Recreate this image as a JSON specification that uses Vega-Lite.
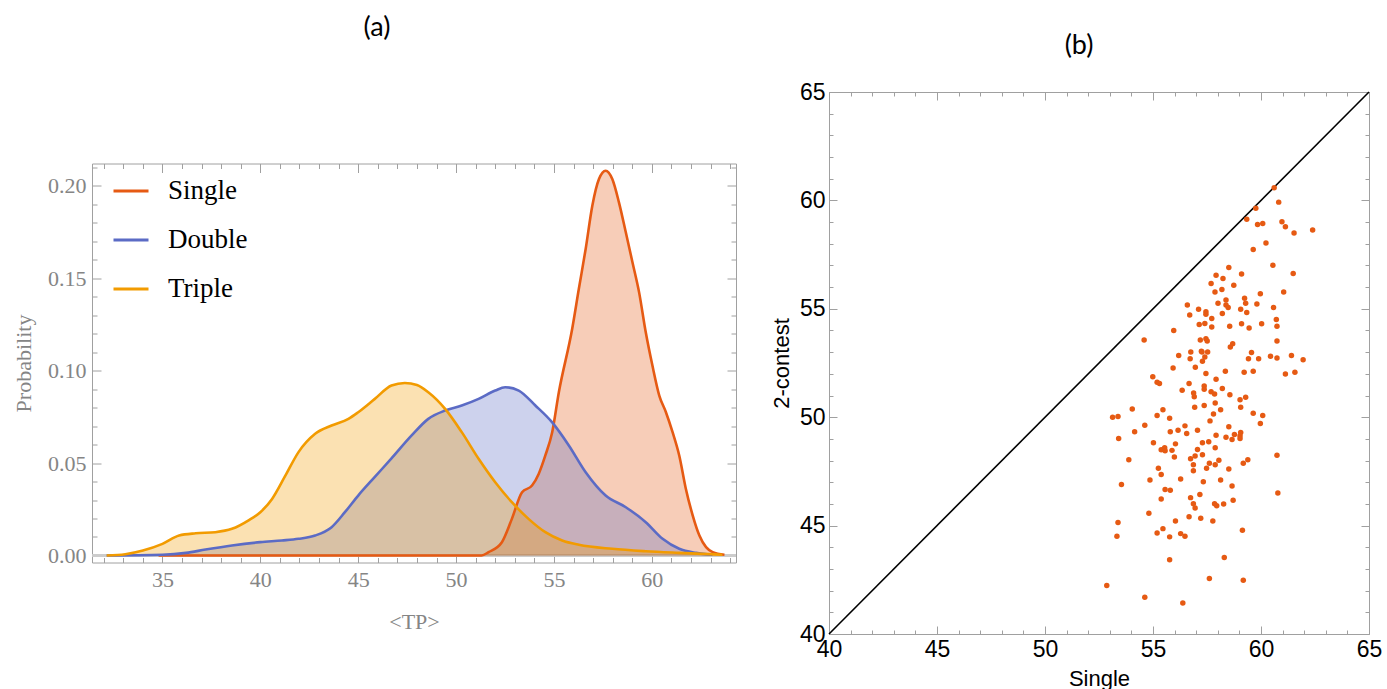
{
  "$schema": "https://vega.github.io/schema/vega-lite/v6.json",
  "padding": {"top": 14, "left": 12, "right": 0, "bottom": 0},
  "config": {"view": {"stroke": null}},
  "bounds": "flush",
  "center": true,
  "spacing": 93,
  "hconcat": [
    {
      "width": 644,
      "height": 399,
      "title": {"text": "(a)", "font": "Lato", "fontSize": 27, "fontWeight": "normal", "color": "#000000", "anchor": "middle", "dx": -37, "baseline": "alphabetic", "offset": 93},
      "data": {"values": [
        {"series": "Single", "x": 34.8, "p": 0},
        {"series": "Single", "x": 51.3, "p": 0},
        {"series": "Single", "x": 51.66, "p": 0.0018},
        {"series": "Single", "x": 52.34, "p": 0.0072},
        {"series": "Single", "x": 52.85, "p": 0.0198},
        {"series": "Single", "x": 53.37, "p": 0.0342},
        {"series": "Single", "x": 53.88, "p": 0.0378},
        {"series": "Single", "x": 54.22, "p": 0.0441},
        {"series": "Single", "x": 54.56, "p": 0.0541},
        {"series": "Single", "x": 54.91, "p": 0.0667},
        {"series": "Single", "x": 55.25, "p": 0.0883},
        {"series": "Single", "x": 55.93, "p": 0.1225},
        {"series": "Single", "x": 56.27, "p": 0.1441},
        {"series": "Single", "x": 56.62, "p": 0.1658},
        {"series": "Single", "x": 56.96, "p": 0.1892},
        {"series": "Single", "x": 57.3, "p": 0.2036},
        {"series": "Single", "x": 57.64, "p": 0.2081},
        {"series": "Single", "x": 57.98, "p": 0.2036},
        {"series": "Single", "x": 58.32, "p": 0.191},
        {"series": "Single", "x": 58.67, "p": 0.1748},
        {"series": "Single", "x": 59.01, "p": 0.1586},
        {"series": "Single", "x": 59.35, "p": 0.1423},
        {"series": "Single", "x": 59.69, "p": 0.1207},
        {"series": "Single", "x": 60.03, "p": 0.1027},
        {"series": "Single", "x": 60.38, "p": 0.0865},
        {"series": "Single", "x": 60.72, "p": 0.0775},
        {"series": "Single", "x": 61.06, "p": 0.0667},
        {"series": "Single", "x": 61.4, "p": 0.0541},
        {"series": "Single", "x": 61.74, "p": 0.036},
        {"series": "Single", "x": 62.09, "p": 0.0216},
        {"series": "Single", "x": 62.43, "p": 0.0108},
        {"series": "Single", "x": 62.77, "p": 0.0045},
        {"series": "Single", "x": 63.11, "p": 0.0018},
        {"series": "Single", "x": 63.71, "p": 0.0004},
        {"series": "Double", "x": 32.15, "p": 0},
        {"series": "Double", "x": 35.0, "p": 0.0004},
        {"series": "Double", "x": 36.2, "p": 0.0014},
        {"series": "Double", "x": 37.2, "p": 0.0032},
        {"series": "Double", "x": 38.55, "p": 0.0054},
        {"series": "Double", "x": 40.0, "p": 0.0072},
        {"series": "Double", "x": 41.1, "p": 0.0081},
        {"series": "Double", "x": 41.95, "p": 0.009},
        {"series": "Double", "x": 42.8, "p": 0.0108},
        {"series": "Double", "x": 43.64, "p": 0.0153},
        {"series": "Double", "x": 44.32, "p": 0.0234},
        {"series": "Double", "x": 45.0, "p": 0.0324},
        {"series": "Double", "x": 45.85, "p": 0.0425},
        {"series": "Double", "x": 46.7, "p": 0.0525},
        {"series": "Double", "x": 47.73, "p": 0.0649},
        {"series": "Double", "x": 48.58, "p": 0.0739},
        {"series": "Double", "x": 49.44, "p": 0.0784},
        {"series": "Double", "x": 50.29, "p": 0.0811},
        {"series": "Double", "x": 51.15, "p": 0.0847},
        {"series": "Double", "x": 52.0, "p": 0.0892},
        {"series": "Double", "x": 52.51, "p": 0.091},
        {"series": "Double", "x": 53.2, "p": 0.0892},
        {"series": "Double", "x": 54.05, "p": 0.0811},
        {"series": "Double", "x": 54.9, "p": 0.0721},
        {"series": "Double", "x": 55.76, "p": 0.0595},
        {"series": "Double", "x": 56.62, "p": 0.045},
        {"series": "Double", "x": 57.64, "p": 0.0324},
        {"series": "Double", "x": 58.67, "p": 0.0261},
        {"series": "Double", "x": 59.69, "p": 0.018},
        {"series": "Double", "x": 60.55, "p": 0.009},
        {"series": "Double", "x": 61.4, "p": 0.0036},
        {"series": "Double", "x": 62.26, "p": 0.0014},
        {"series": "Double", "x": 63.1, "p": 0.0004},
        {"series": "Triple", "x": 32.15, "p": 0},
        {"series": "Triple", "x": 33.1, "p": 0.0007},
        {"series": "Triple", "x": 34.0, "p": 0.0027},
        {"series": "Triple", "x": 35.0, "p": 0.0063},
        {"series": "Triple", "x": 35.85, "p": 0.0108},
        {"series": "Triple", "x": 36.7, "p": 0.012},
        {"series": "Triple", "x": 37.7, "p": 0.0126},
        {"series": "Triple", "x": 38.55, "p": 0.0144},
        {"series": "Triple", "x": 39.4, "p": 0.019},
        {"series": "Triple", "x": 40.0, "p": 0.0234},
        {"series": "Triple", "x": 40.6, "p": 0.0306},
        {"series": "Triple", "x": 41.27, "p": 0.043},
        {"series": "Triple", "x": 41.95, "p": 0.0559},
        {"series": "Triple", "x": 42.8, "p": 0.0658},
        {"series": "Triple", "x": 43.64, "p": 0.0703},
        {"series": "Triple", "x": 44.5, "p": 0.0739},
        {"series": "Triple", "x": 45.0, "p": 0.0775},
        {"series": "Triple", "x": 45.85, "p": 0.0847},
        {"series": "Triple", "x": 46.7, "p": 0.0919},
        {"series": "Triple", "x": 47.38, "p": 0.0933},
        {"series": "Triple", "x": 48.0, "p": 0.0922},
        {"series": "Triple", "x": 48.58, "p": 0.0883},
        {"series": "Triple", "x": 49.44, "p": 0.0793},
        {"series": "Triple", "x": 50.29, "p": 0.0667},
        {"series": "Triple", "x": 51.15, "p": 0.0523},
        {"series": "Triple", "x": 52.0, "p": 0.0396},
        {"series": "Triple", "x": 52.85, "p": 0.0288},
        {"series": "Triple", "x": 53.7, "p": 0.0198},
        {"series": "Triple", "x": 54.56, "p": 0.0126},
        {"series": "Triple", "x": 55.42, "p": 0.0081},
        {"series": "Triple", "x": 56.27, "p": 0.0058},
        {"series": "Triple", "x": 57.98, "p": 0.0036},
        {"series": "Triple", "x": 59.69, "p": 0.0023},
        {"series": "Triple", "x": 61.4, "p": 0.0014},
        {"series": "Triple", "x": 63.6, "p": 0.0004}
      ]},
      "resolve": {"axis": {"x": "independent", "y": "independent"}},
      "layer": [
        {
          "mark": {"type": "rule", "color": "#cccccc", "strokeWidth": 2},
          "encoding": {"y": {"datum": 0, "type": "quantitative", "axis": null}}
        },
        {
          "mark": {"type": "area", "interpolate": "monotone", "fillOpacity": 0.3},
          "encoding": {
            "x": {"field": "x", "type": "quantitative",
              "scale": {"domain": [31.4, 64.3], "nice": false, "zero": false},
              "axis": {"orient": "bottom", "values": [32,33,34,35,36,37,38,39,40,41,42,43,44,45,46,47,48,49,50,51,52,53,54,55,56,57,58,59,60,61,62,63,64],
                "labelExpr": "datum.value % 5 === 0 ? datum.label : ''",
                "tickSize": {"condition": {"test": "datum.value % 5 === 0", "value": -9}, "value": -5},
                "labelPadding": 16, "labelOverlap": false, "labelFlush": false,
                "labelFont": "Liberation Serif", "labelFontSize": 22, "labelColor": "#858585",
                "domainColor": "#a0a0a0", "tickColor": "#a0a0a0", "grid": false,
                "title": "<TP>", "titleFont": "Liberation Serif", "titleFontSize": 22, "titleFontWeight": "normal", "titleColor": "#858585", "titlePadding": 17}},
            "y": {"field": "p", "type": "quantitative", "stack": null,
              "scale": {"domain": [-0.0038, 0.212], "nice": false, "zero": false},
              "axis": {"orient": "left", "values": [0,0.01,0.02,0.03,0.04,0.05,0.06,0.07,0.08,0.09,0.1,0.11,0.12,0.13,0.14,0.15,0.16,0.17,0.18,0.19,0.2,0.21],
                "labelExpr": "round(datum.value*100) % 5 == 0 ? format(datum.value, '.2f') : ''",
                "tickSize": {"condition": {"test": "round(datum.value*100) % 5 == 0", "value": -9}, "value": -5},
                "labelPadding": 15, "labelOverlap": false, "labelFlush": false,
                "labelFont": "Liberation Serif", "labelFontSize": 22, "labelColor": "#858585",
                "domainColor": "#a0a0a0", "tickColor": "#a0a0a0", "grid": false,
                "title": "Probability", "titleFont": "Liberation Serif", "titleFontSize": 22, "titleFontWeight": "normal", "titleColor": "#858585", "titlePadding": 12}},
            "fill": {"field": "series", "type": "nominal",
              "scale": {"domain": ["Single", "Double", "Triple"], "range": ["#E65A13", "#5B6BC5", "#F29B00"]},
              "legend": {"orient": "none", "legendX": 20, "legendY": 80, "title": null, "symbolType": "stroke", "symbolSize": 1225, "symbolStrokeWidth": 3,
                "labelFont": "Liberation Serif", "labelFontSize": 27, "labelColor": "#000000", "labelOffset": 18, "rowPadding": 17}}
          }
        },
        {
          "mark": {"type": "line", "interpolate": "monotone", "strokeWidth": 2.6},
          "encoding": {
            "x": {"field": "x", "type": "quantitative",
              "axis": {"orient": "top", "values": [32,33,34,35,36,37,38,39,40,41,42,43,44,45,46,47,48,49,50,51,52,53,54,55,56,57,58,59,60,61,62,63,64],
                "labels": false, "title": null, "minExtent": 0,
                "tickSize": {"condition": {"test": "datum.value % 5 === 0", "value": -9}, "value": -5},
                "domainColor": "#a0a0a0", "tickColor": "#a0a0a0", "grid": false}},
            "y": {"field": "p", "type": "quantitative",
              "axis": {"orient": "right", "values": [0,0.01,0.02,0.03,0.04,0.05,0.06,0.07,0.08,0.09,0.1,0.11,0.12,0.13,0.14,0.15,0.16,0.17,0.18,0.19,0.2,0.21],
                "labels": false, "title": null, "minExtent": 0,
                "tickSize": {"condition": {"test": "round(datum.value*100) % 5 == 0", "value": -9}, "value": -5},
                "domainColor": "#a0a0a0", "tickColor": "#a0a0a0", "grid": false}},
            "stroke": {"field": "series", "type": "nominal",
              "scale": {"domain": ["Single", "Double", "Triple"], "range": ["#E65A13", "#5B6BC5", "#F29B00"]},
              "legend": {"orient": "none", "legendX": 20, "legendY": 80, "title": null, "symbolType": "stroke", "symbolSize": 1225, "symbolStrokeWidth": 3,
                "labelFont": "Liberation Serif", "labelFontSize": 27, "labelColor": "#000000", "labelOffset": 18, "rowPadding": 17}}
          }
        }
      ]
    },
    {
      "width": 540,
      "height": 542,
      "title": {"text": "(b)", "font": "Lato", "fontSize": 27, "fontWeight": "normal", "color": "#000000", "anchor": "middle", "dx": -20, "baseline": "alphabetic", "offset": 0},
      "resolve": {"axis": {"x": "independent", "y": "independent"}},
      "layer": [
        {
          "data": {"values": [{"s": 40, "c": 40}, {"s": 65, "c": 65}]},
          "mark": {"type": "line", "color": "#000000", "strokeWidth": 1.6},
          "encoding": {
            "x": {"field": "s", "type": "quantitative",
              "scale": {"domain": [40, 65], "nice": false, "zero": false},
              "axis": {"orient": "bottom", "values": [40,41,42,43,44,45,46,47,48,49,50,51,52,53,54,55,56,57,58,59,60,61,62,63,64,65],
                "labelExpr": "datum.value % 5 === 0 ? datum.label : ''",
                "tickSize": {"condition": {"test": "datum.value % 5 === 0", "value": -8}, "value": -4},
                "labelPadding": 12, "labelOverlap": false, "labelFlush": false,
                "labelFont": "Liberation Sans Narrow, Liberation Sans", "labelFontSize": 23, "labelColor": "#000000",
                "domainColor": "#a0a0a0", "tickColor": "#a0a0a0", "grid": false,
                "title": "Single", "titleFont": "Liberation Sans Narrow, Liberation Sans", "titleFontSize": 22, "titleFontWeight": "normal", "titleColor": "#000000", "titlePadding": 3}},
            "y": {"field": "c", "type": "quantitative",
              "scale": {"domain": [40, 65], "nice": false, "zero": false},
              "axis": {"orient": "left", "values": [40,41,42,43,44,45,46,47,48,49,50,51,52,53,54,55,56,57,58,59,60,61,62,63,64,65],
                "labelExpr": "datum.value % 5 === 0 ? datum.label : ''",
                "tickSize": {"condition": {"test": "datum.value % 5 === 0", "value": -8}, "value": -4},
                "labelPadding": 12, "labelOverlap": false, "labelFlush": false,
                "labelFont": "Liberation Sans Narrow, Liberation Sans", "labelFontSize": 23, "labelColor": "#000000",
                "domainColor": "#a0a0a0", "tickColor": "#a0a0a0", "grid": false,
                "title": "2-contest", "titleFont": "Liberation Sans Narrow, Liberation Sans", "titleFontSize": 22, "titleFontWeight": "normal", "titleColor": "#000000", "titlePadding": 6}}
          }
        },
        {
          "data": {"values": [
            {"s":60.61,"c":60.58},{"s":60.82,"c":59.92},{"s":59.76,"c":59.64},{"s":59.34,"c":59.13},{"s":59.84,"c":58.89},{"s":60.08,"c":58.93},{"s":60.97,"c":59.02},{"s":61.13,"c":58.78},{"s":61.53,"c":58.5},{"s":62.39,"c":58.63},
            {"s":60.23,"c":58.04},{"s":59.64,"c":57.73},{"s":60.55,"c":57.01},{"s":58.51,"c":56.9},{"s":57.92,"c":56.55},{"s":58.24,"c":56.4},{"s":59.1,"c":56.6},{"s":61.49,"c":56.63},{"s":57.69,"c":56.17},{"s":58.74,"c":56.09},
            {"s":57.87,"c":55.77},{"s":58.19,"c":55.89},{"s":61.05,"c":55.77},{"s":59.97,"c":55.69},{"s":56.59,"c":55.18},{"s":57.11,"c":54.98},{"s":57.45,"c":54.86},{"s":57.45,"c":54.75},{"s":56.7,"c":54.71},{"s":58.01,"c":55.26},
            {"s":58.38,"c":55.41},{"s":58.38,"c":55.18},{"s":58.48,"c":55.06},{"s":59.24,"c":55.49},{"s":59.29,"c":55.26},{"s":59.81,"c":55.22},{"s":59.06,"c":54.98},{"s":59.34,"c":54.83},{"s":58.21,"c":54.78},{"s":60.58,"c":55.06},
            {"s":57.72,"c":54.55},{"s":60.71,"c":54.51},{"s":57.14,"c":54.28},{"s":57.4,"c":54.32},{"s":57.72,"c":54.16},{"s":58.55,"c":54.2},{"s":59.1,"c":54.31},{"s":59.45,"c":54.11},{"s":60.03,"c":54.31},{"s":60.74,"c":54.2},
            {"s":55.96,"c":54.0},{"s":54.59,"c":53.56},{"s":57.19,"c":53.56},{"s":57.45,"c":53.62},{"s":57.51,"c":53.51},{"s":60.74,"c":53.51},{"s":58.58,"c":53.24},{"s":58.69,"c":53.39},{"s":56.75,"c":53.01},{"s":57.24,"c":53.04},
            {"s":57.27,"c":53.01},{"s":57.53,"c":53.01},{"s":56.19,"c":52.85},{"s":56.72,"c":52.7},{"s":57.4,"c":52.78},{"s":57.29,"c":52.58},{"s":59.42,"c":52.7},{"s":59.56,"c":52.98},{"s":59.89,"c":52.7},{"s":60.44,"c":52.81},
            {"s":60.74,"c":52.73},{"s":61.41,"c":52.85},{"s":61.95,"c":52.65},{"s":55.93,"c":52.27},{"s":56.96,"c":52.3},{"s":58.35,"c":52.12},{"s":57.45,"c":52.02},{"s":59.22,"c":52.07},{"s":59.64,"c":52.12},{"s":61.13,"c":51.99},
            {"s":61.57,"c":52.07},{"s":54.99,"c":51.87},{"s":55.19,"c":51.61},{"s":55.3,"c":51.55},{"s":56.67,"c":51.55},{"s":57.92,"c":51.75},{"s":56.35,"c":51.24},{"s":56.88,"c":51.12},{"s":56.91,"c":50.94},{"s":57.37,"c":51.44},
            {"s":57.37,"c":51.29},{"s":57.69,"c":51.17},{"s":57.85,"c":51.07},{"s":58.21,"c":51.32},{"s":58.56,"c":51.04},{"s":59.03,"c":50.81},{"s":59.29,"c":50.92},{"s":57.88,"c":50.66},{"s":59.06,"c":50.46},{"s":56.93,"c":50.46},
            {"s":57.37,"c":50.54},{"s":54.04,"c":50.38},{"s":53.13,"c":50.0},{"s":53.38,"c":50.03},{"s":55.19,"c":50.08},{"s":55.46,"c":50.34},{"s":55.77,"c":49.95},{"s":58.13,"c":50.34},{"s":57.8,"c":50.15},{"s":57.64,"c":49.83},
            {"s":59.64,"c":50.18},{"s":60.08,"c":50.08},{"s":59.97,"c":49.71},{"s":54.62,"c":49.63},{"s":56.48,"c":49.6},{"s":58.51,"c":49.56},{"s":54.15,"c":49.33},{"s":55.8,"c":49.33},{"s":56.16,"c":49.4},{"s":56.56,"c":49.25},
            {"s":57.06,"c":49.4},{"s":57.92,"c":49.17},{"s":58.38,"c":49.08},{"s":58.77,"c":49.2},{"s":59.06,"c":49.29},{"s":59.03,"c":49.14},{"s":59.03,"c":49.02},{"s":58.66,"c":48.97},{"s":53.41,"c":49.02},{"s":55.02,"c":48.82},
            {"s":56.04,"c":48.77},{"s":57.29,"c":48.82},{"s":57.58,"c":48.87},{"s":55.38,"c":48.5},{"s":55.54,"c":48.59},{"s":55.56,"c":48.45},{"s":55.88,"c":48.47},{"s":57.06,"c":48.51},{"s":57.88,"c":48.59},{"s":55.99,"c":48.16},
            {"s":56.74,"c":48.08},{"s":56.95,"c":48.21},{"s":57.29,"c":48.27},{"s":60.74,"c":48.24},{"s":53.88,"c":48.04},{"s":58.05,"c":48.01},{"s":57.61,"c":47.88},{"s":57.88,"c":47.81},{"s":59.18,"c":47.88},{"s":59.39,"c":48.04},
            {"s":56.87,"c":47.81},{"s":57.48,"c":47.65},{"s":55.25,"c":47.65},{"s":56.87,"c":47.53},{"s":58.51,"c":47.61},{"s":55.38,"c":47.36},{"s":54.86,"c":47.1},{"s":56.28,"c":47.15},{"s":57.33,"c":47.02},{"s":58.13,"c":47.1},
            {"s":53.54,"c":46.9},{"s":55.56,"c":46.67},{"s":55.8,"c":46.63},{"s":58.66,"c":46.83},{"s":56.74,"c":46.29},{"s":55.38,"c":46.23},{"s":57.17,"c":46.43},{"s":60.78,"c":46.5},{"s":56.87,"c":46.01},{"s":56.95,"c":45.81},
            {"s":57.85,"c":46.01},{"s":57.95,"c":45.92},{"s":58.27,"c":46.0},{"s":58.71,"c":46.17},{"s":54.81,"c":45.57},{"s":56.67,"c":45.41},{"s":57.21,"c":45.34},{"s":53.38,"c":45.14},{"s":56.04,"c":45.21},{"s":57.77,"c":45.21},
            {"s":53.33,"c":44.51},{"s":55.19,"c":44.66},{"s":55.46,"c":44.86},{"s":55.77,"c":44.48},{"s":56.28,"c":44.63},{"s":56.48,"c":44.51},{"s":59.14,"c":44.79},{"s":55.77,"c":43.42},{"s":58.3,"c":43.53},{"s":57.61,"c":42.56},
            {"s":59.18,"c":42.48},{"s":52.86,"c":42.24},{"s":54.62,"c":41.7},{"s":56.38,"c":41.43}
          ]},
          "mark": {"type": "circle", "size": 30, "opacity": 1, "color": "#E65A13"},
          "encoding": {
            "x": {"field": "s", "type": "quantitative",
              "axis": {"orient": "top", "values": [40,41,42,43,44,45,46,47,48,49,50,51,52,53,54,55,56,57,58,59,60,61,62,63,64,65],
                "labels": false, "title": null, "minExtent": 0,
                "tickSize": {"condition": {"test": "datum.value % 5 === 0", "value": -8}, "value": -4},
                "domainColor": "#a0a0a0", "tickColor": "#a0a0a0", "grid": false}},
            "y": {"field": "c", "type": "quantitative",
              "axis": {"orient": "right", "values": [40,41,42,43,44,45,46,47,48,49,50,51,52,53,54,55,56,57,58,59,60,61,62,63,64,65],
                "labels": false, "title": null, "minExtent": 0,
                "tickSize": {"condition": {"test": "datum.value % 5 === 0", "value": -8}, "value": -4},
                "domainColor": "#a0a0a0", "tickColor": "#a0a0a0", "grid": false}}
          }
        }
      ]
    }
  ]
}
